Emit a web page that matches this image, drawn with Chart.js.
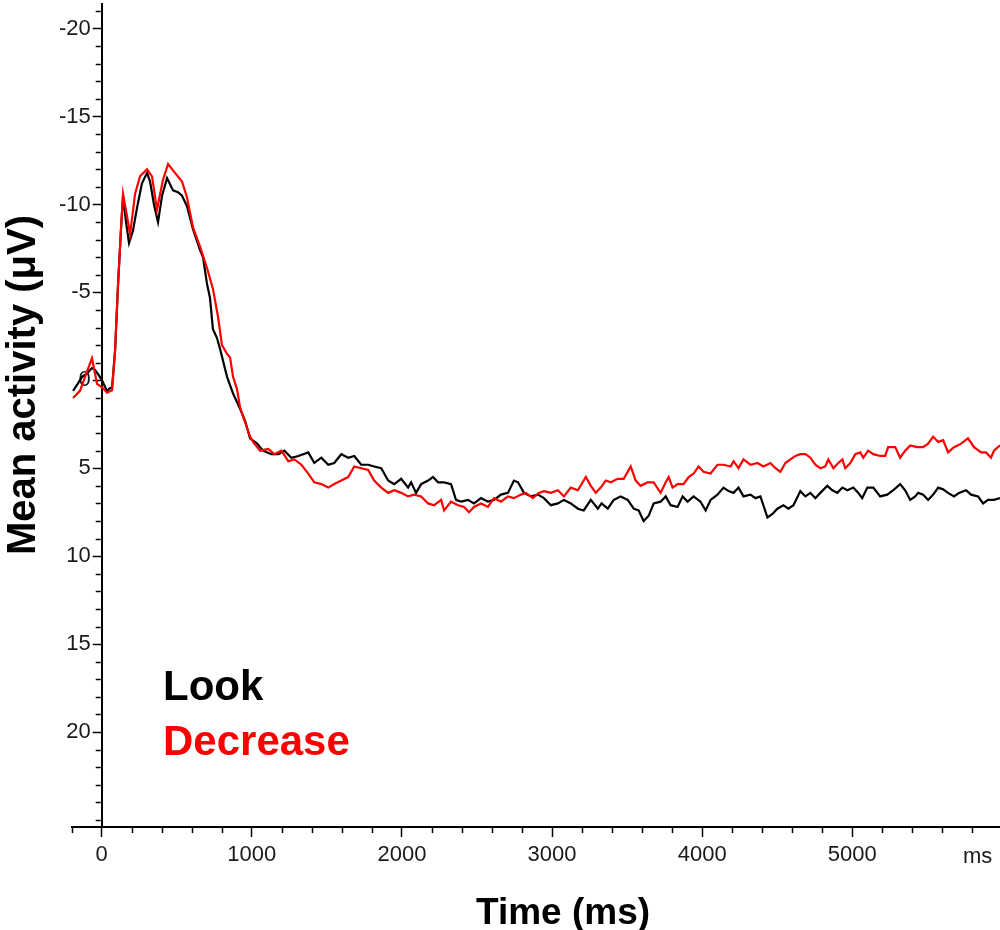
<!DOCTYPE html>
<html>
<head>
<meta charset="utf-8">
<script src="https://cdn.jsdelivr.net/npm/chart.js@4.4.0/dist/chart.umd.min.js"></script>
<style>
html, body { margin: 0; padding: 0; background: #fff; overflow: hidden; }
</style>
</head>
<body>
<canvas id="erpchart" width="1000" height="930"></canvas>
<script>
'use strict';

// values (time in ms, amplitude in microvolts, negative up)
const lookTimes = [-191, -160, -131, -98, -65, -45, -20, 2, 35, 55, 69, 89, 109, 129, 142, 162, 182, 208, 235, 268,
  302, 322, 348, 375, 402, 435, 475, 508, 535, 568, 608, 655, 675, 701, 721, 741, 768, 788, 835, 875,
  921, 955, 988, 1035, 1075, 1130, 1177, 1217, 1263, 1310, 1376, 1416, 1463, 1509, 1549, 1596, 1642, 1682, 1729, 1775,
  1815, 1862, 1908, 1948, 1995, 2041, 2061, 2094, 2128, 2174, 2207, 2241, 2281, 2327, 2360, 2394, 2440, 2480, 2527, 2573,
  2613, 2660, 2706, 2746, 2773, 2813, 2859, 2906, 2946, 2992, 3039, 3079, 3125, 3172, 3211, 3258, 3305, 3330, 3371, 3411,
  3457, 3504, 3544, 3577, 3610, 3644, 3677, 3723, 3757, 3790, 3836, 3870, 3903, 3943, 3989, 4023, 4056, 4102, 4142, 4176,
  4209, 4242, 4275, 4322, 4355, 4388, 4435, 4468, 4501, 4541, 4574, 4608, 4654, 4688, 4721, 4754, 4787, 4834, 4867, 4900,
  4934, 4967, 5007, 5040, 5066, 5100, 5140, 5186, 5233, 5273, 5319, 5352, 5386, 5419, 5439, 5472, 5505, 5539, 5572, 5605,
  5638, 5678, 5711, 5758, 5791, 5838, 5871, 5904, 5944, 5984];
const lookValues = [0.6, 0.2, -0.2, -0.4, -0.7, -0.6, -0.3, 0.0, 0.6, 0.45, 0.4, -1.7, -5.5, -8.7, -10.5, -9.0, -7.8, -8.5, -9.8, -11.2,
  -11.8, -11.3, -10.0, -9.0, -10.5, -11.5, -10.8, -10.7, -10.5, -9.9, -8.6, -7.4, -7.0, -5.5, -4.7, -2.9, -2.4, -1.8, -0.2, 0.75,
  1.6, 2.3, 3.3, 3.6, 4.0, 4.2, 4.2, 4.0, 4.4, 4.3, 4.1, 4.7, 4.4, 4.8, 4.7, 4.2, 4.4, 4.3, 4.8, 4.8,
  4.9, 5.0, 5.7, 5.9, 5.6, 6.1, 5.8, 6.4, 5.9, 5.7, 5.5, 5.8, 5.8, 5.9, 6.8, 6.9, 6.8, 7.0, 6.7, 6.9,
  6.8, 6.5, 6.4, 5.7, 5.8, 6.4, 6.6, 6.5, 6.7, 7.1, 7.0, 6.8, 7.0, 7.3, 7.4, 6.8, 7.3, 7.0, 7.3, 6.8,
  6.6, 6.8, 7.3, 7.4, 8.0, 7.7, 7.0, 6.9, 6.6, 7.1, 7.2, 6.6, 6.9, 6.6, 6.9, 7.4, 6.8, 6.5, 6.1, 6.3,
  6.4, 6.1, 6.6, 6.5, 6.7, 6.6, 7.8, 7.6, 7.3, 7.1, 7.3, 7.1, 6.3, 6.6, 6.4, 6.7, 6.4, 6.0, 6.25, 6.4,
  6.1, 6.25, 6.1, 6.4, 6.7, 6.1, 6.1, 6.6, 6.5, 6.25, 5.9, 6.25, 6.8, 6.6, 6.4, 6.5, 6.8, 6.5, 6.1, 6.2,
  6.4, 6.6, 6.4, 6.25, 6.5, 6.6, 7.0, 6.8, 6.8, 6.7];

const decreaseTimes = [-191, -145, -98, -65, -31, 9, 35, 69, 89, 109, 129, 142, 169, 189, 222, 255, 302, 335, 368, 408,
  442, 488, 535, 568, 608, 655, 701, 741, 775, 801, 835, 855, 875, 901, 921, 935, 968, 988, 1008, 1055,
  1110, 1150, 1197, 1243, 1283, 1330, 1376, 1416, 1463, 1509, 1549, 1596, 1642, 1682, 1729, 1775, 1815, 1862, 1908, 1948,
  1995, 2041, 2081, 2128, 2174, 2214, 2261, 2281, 2327, 2374, 2414, 2447, 2480, 2527, 2573, 2613, 2660, 2706, 2746, 2793,
  2826, 2872, 2912, 2946, 2992, 3039, 3079, 3125, 3172, 3225, 3258, 3291, 3324, 3358, 3391, 3437, 3477, 3524, 3557, 3590,
  3637, 3677, 3723, 3757, 3777, 3803, 3836, 3876, 3910, 3943, 3976, 4009, 4056, 4102, 4142, 4189, 4209, 4242, 4275, 4322,
  4368, 4408, 4455, 4488, 4521, 4554, 4588, 4621, 4654, 4688, 4721, 4754, 4787, 4820, 4840, 4874, 4907, 4934, 4953, 4987,
  5020, 5053, 5073, 5106, 5140, 5186, 5219, 5239, 5286, 5319, 5352, 5386, 5432, 5472, 5505, 5539, 5572, 5605, 5638, 5678,
  5725, 5771, 5811, 5858, 5891, 5924, 5944, 5984];
const decreaseValues = [1.0, 0.6, -0.5, -1.25, 0.2, 0.45, 0.7, 0.57, -1.7, -5.5, -8.7, -10.6, -9.3, -8.3, -10.6, -11.6, -12.0, -11.6, -9.7, -11.4,
  -12.3, -11.8, -11.3, -10.4, -8.7, -7.6, -6.4, -5.2, -3.6, -2.0, -1.5, -1.3, -0.2, 0.5, 1.5, 1.9, 2.7, 3.2, 3.5, 4.0,
  3.9, 4.2, 4.0, 4.6, 4.5, 4.8, 5.3, 5.8, 5.9, 6.1, 5.9, 5.7, 5.5, 4.9, 5.0, 5.1, 5.7, 6.1, 6.4, 6.25,
  6.4, 6.6, 6.5, 6.6, 7.0, 7.1, 6.8, 7.4, 6.9, 7.1, 7.2, 7.5, 7.2, 7.0, 7.2, 6.7, 6.9, 6.6, 6.7, 6.5,
  6.4, 6.7, 6.4, 6.3, 6.4, 6.25, 6.6, 6.1, 6.25, 5.5, 6.0, 6.4, 6.1, 5.7, 5.8, 5.6, 5.6, 4.9, 5.7, 6.0,
  5.8, 5.8, 6.4, 5.8, 5.5, 6.1, 5.9, 5.9, 5.5, 5.3, 4.9, 5.2, 5.3, 4.8, 4.8, 4.9, 4.6, 5.0, 4.5, 4.8,
  4.7, 4.9, 4.7, 5.0, 5.2, 4.7, 4.5, 4.3, 4.2, 4.2, 4.4, 4.8, 5.0, 4.9, 4.5, 5.0, 4.7, 4.5, 5.0, 4.7,
  4.2, 4.1, 4.4, 4.0, 4.2, 4.3, 4.3, 3.8, 3.8, 4.4, 4.0, 3.7, 3.8, 3.8, 3.6, 3.2, 3.5, 3.4, 4.1, 3.8,
  3.6, 3.3, 3.8, 4.1, 4.1, 4.4, 4.0, 3.7];

const xMajorTicks = [0, 1000, 2000, 3000, 4000, 5000];
const yMajorTicks = [-20, -15, -10, -5, 0, 5, 10, 15, 20];
const seriesNames = ['Look', 'Decrease'];
const seriesColors = ['#000000', '#ff0000'];
const xTitle = 'Time (ms)';
const yTitle = 'Mean activity (μV)';
const xUnitLabel = 'ms';

const FONT = '"Liberation Sans", Arial, sans-serif';
const X_MIN = -200, X_MAX = 5984;
const Y_MIN = -21.4, Y_MAX = 25.4;

function toPoints(times, values) {
    return times.map((t, i) => ({ x: t, y: values[i] }));
}

// y axis sits at t = 0 instead of the left edge of the plot
const moveYAxis = {
    id: 'moveYAxis',
    afterLayout(chart) {
        const area = chart.chartArea;
        const x0 = area.left + (0 - X_MIN) / (X_MAX - X_MIN) * (area.right - area.left);
        const ys = chart.scales.y;
        ys.left = x0 - 80;
        ys.right = x0;
    }
};

// minor ticks, axis titles, unit label and the coloured legend words
const decorations = {
    id: 'decorations',
    beforeDatasetsDraw(chart) {
        const c = chart.ctx;
        const xs = chart.scales.x;
        const ys = chart.scales.y;
        const x0 = xs.getPixelForValue(0);
        const yb = chart.chartArea.bottom;
        c.save();
        c.strokeStyle = '#000';
        c.lineWidth = 1.5;
        c.beginPath();
        for (let v = -21; v <= 25; v++) {
            if (yMajorTicks.includes(v)) continue;
            const py = Math.round(ys.getPixelForValue(v)) + 0.5;
            c.moveTo(x0 - 1, py);
            c.lineTo(x0 - 6, py);
        }
        for (let t = -200; t <= 5800; t += 200) {
            if (xMajorTicks.includes(t)) continue;
            const px = Math.round(xs.getPixelForValue(t)) + 0.5;
            c.moveTo(px, yb + 1);
            c.lineTo(px, yb + 6);
        }
        c.stroke();

        c.fillStyle = '#1a1a1a';
        c.font = '22px ' + FONT;
        c.textAlign = 'left';
        c.textBaseline = 'alphabetic';
        c.fillText(xUnitLabel, 963, 863);

        c.fillStyle = '#000';
        c.font = 'bold 37px ' + FONT;
        c.textAlign = 'center';
        c.fillText(xTitle, 563, 924);

        c.save();
        c.translate(35, 385);
        c.rotate(-Math.PI / 2);
        c.font = 'bold 40px ' + FONT;
        c.fillText(yTitle, 0, 0);
        c.restore();

        c.textAlign = 'left';
        c.font = 'bold 42px ' + FONT;
        c.fillStyle = seriesColors[0];
        c.fillText(seriesNames[0], 163, 700);
        c.fillStyle = seriesColors[1];
        c.fillText(seriesNames[1], 163, 755);
        c.restore();
    }
};

var erpchart = new Chart(document.getElementById('erpchart'), {
    type: 'line',
    data: {
        datasets: [{
            label: seriesNames[1],
            data: toPoints(decreaseTimes, decreaseValues),
            borderColor: seriesColors[1],
            borderWidth: 2.2,
            pointRadius: 0,
            tension: 0
        }, {
            label: seriesNames[0],
            data: toPoints(lookTimes, lookValues),
            borderColor: seriesColors[0],
            borderWidth: 2.2,
            pointRadius: 0,
            tension: 0
        }]
    },
    options: {
        responsive: false,
        animation: false,
        devicePixelRatio: 1,
        layout: { padding: { left: 71.7, right: 0, top: 4, bottom: 0 } },
        plugins: {
            legend: { display: false },
            tooltip: { enabled: false }
        },
        scales: {
            x: {
                type: 'linear',
                position: 'bottom',
                min: X_MIN,
                max: X_MAX,
                afterBuildTicks: (s) => { s.ticks = xMajorTicks.map(v => ({ value: v })); },
                afterFit: (s) => {
                    s.height = 103;
                    s.paddingLeft = 0;
                    s.paddingRight = 0;
                },
                ticks: {
                    font: { size: 22, family: FONT },
                    color: '#1a1a1a',
                    padding: 5,
                    maxRotation: 0,
                    autoSkip: false,
                    callback: (v) => String(v)
                },
                grid: { drawOnChartArea: false, drawTicks: true, tickLength: 10, tickWidth: 1.5, tickColor: '#000' },
                border: { display: true, color: '#000', width: 2 }
            },
            y: {
                type: 'linear',
                position: 'left',
                reverse: true,
                min: Y_MIN,
                max: Y_MAX,
                afterBuildTicks: (s) => { s.ticks = yMajorTicks.map(v => ({ value: v })); },
                afterFit: (s) => {
                    s.width = 0;
                    s.paddingTop = 0;
                    s.paddingBottom = 0;
                },
                ticks: {
                    font: { size: 22, family: FONT },
                    color: '#1a1a1a',
                    padding: 2,
                    autoSkip: false,
                    callback: (v) => String(v)
                },
                grid: { drawOnChartArea: false, drawTicks: true, tickLength: 9, tickWidth: 1.5, tickColor: '#000' },
                border: { display: true, color: '#000', width: 2 }
            }
        }
    },
    plugins: [moveYAxis, decorations]
});
</script>
</body>
</html>
